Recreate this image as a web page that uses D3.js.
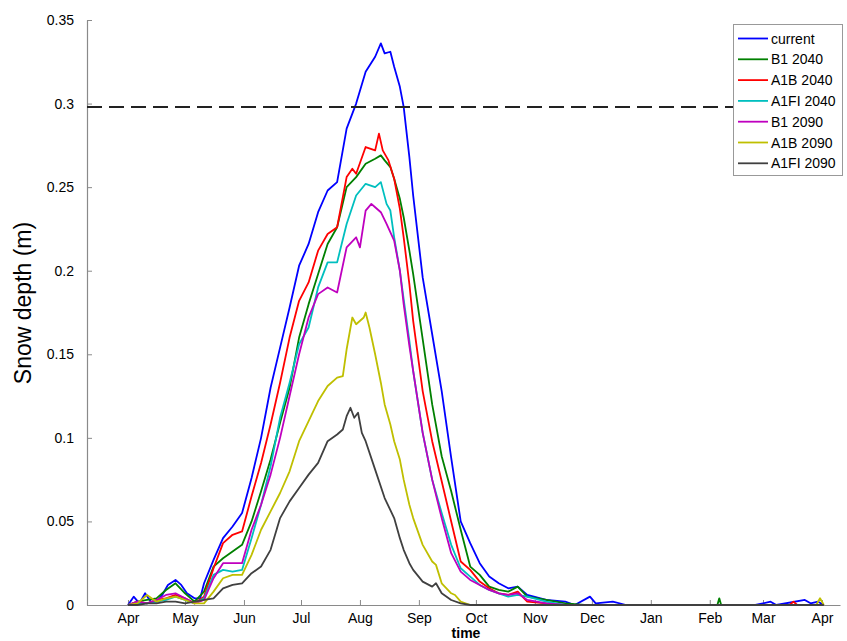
<!DOCTYPE html>
<html>
<head>
<meta charset="utf-8">
<script src="https://cdn.jsdelivr.net/npm/d3@7"></script>
<style>
  body { margin: 0; background: #fff; }
  text { font-family: "Liberation Sans", Arial, sans-serif; }
</style>
</head>
<body>
<div class="chart"></div>
<script>
// snow depth (m), [days after 1 April, value]
var current = [[0,0],[3,0.005],[6,0.001],[9,0.007],[12,0.002],[15,0.002],[18,0.006],[21,0.012],[25,0.015],[28,0.012],[31,0.007],[35,0.004],[38,0.004],
  [40,0.013],[45,0.027],[50,0.040],[55,0.047],[60,0.055],[65,0.076],[70,0.100],[75,0.130],[80,0.154],[85,0.178],[90,0.203],[95,0.216],[100,0.235],
  [105,0.248],[110,0.253],[115,0.285],[120,0.300],[125,0.319],[130,0.328],[133,0.336],[135,0.330],[138,0.331],[140,0.322],[143,0.310],[145,0.298],
  [148,0.268],[150,0.245],[155,0.196],[160,0.162],[165,0.128],[170,0.088],[175,0.050],[180,0.037],[185,0.025],[190,0.017],[195,0.013],[200,0.010],
  [205,0.011],[210,0.006],[220,0.003],[230,0.002],[235,0],[243,0.005],[246,0.001],[255,0.002],[262,0],[330,0],[338,0.002],[341,0],[356,0.003],[359,0.001],[363,0.002],[366,0]];

var b1_2040 = [[0,0],[5,0.002],[10,0.003],[15,0.004],[20,0.009],[25,0.013],[30,0.007],[35,0.002],[40,0.008],[45,0.023],[50,0.028],[55,0.032],[60,0.036],
  [65,0.050],[70,0.068],[75,0.087],[80,0.109],[85,0.130],[90,0.160],[95,0.180],[100,0.198],[105,0.216],[110,0.226],[115,0.250],[120,0.256],[125,0.264],
  [130,0.267],[133,0.269],[135,0.266],[138,0.262],[140,0.255],[143,0.243],[145,0.232],[148,0.212],[150,0.198],[155,0.159],[160,0.120],[165,0.089],
  [170,0.068],[175,0.045],[180,0.023],[185,0.018],[190,0.011],[195,0.009],[200,0.008],[205,0.011],[210,0.005],[220,0.003],[230,0.001],[240,0],
  [310,0],[311,0.004],[312,0],[366,0]];

var a1b_2040 = [[0,0],[5,0.002],[10,0.001],[15,0.003],[20,0.004],[25,0.006],[30,0.004],[35,0.001],[40,0.005],[45,0.022],[50,0.037],[55,0.042],[60,0.044],
  [65,0.065],[70,0.085],[75,0.108],[80,0.133],[85,0.160],[90,0.182],[95,0.193],[100,0.212],[105,0.222],[110,0.226],[115,0.256],[118,0.261],[120,0.258],
  [125,0.274],[130,0.272],[132,0.282],[134,0.272],[137,0.266],[140,0.255],[143,0.237],[145,0.220],[148,0.192],[150,0.170],[155,0.128],[160,0.098],
  [165,0.074],[170,0.050],[175,0.026],[180,0.021],[185,0.014],[190,0.010],[195,0.007],[200,0.006],[205,0.008],[210,0.002],[220,0.001],[230,0],
  [348,0],[350,0.002],[352,0],[366,0]];

var a1fi_2040 = [[0,0],[5,0.001],[10,0.001],[15,0.002],[20,0.003],[25,0.005],[30,0.003],[35,0.001],[40,0.004],[45,0.018],[50,0.021],[55,0.020],[60,0.021],
  [65,0.040],[70,0.060],[75,0.083],[80,0.112],[85,0.133],[90,0.156],[95,0.166],[100,0.190],[105,0.205],[110,0.205],[115,0.228],[120,0.245],[125,0.252],
  [130,0.250],[133,0.253],[136,0.240],[138,0.236],[140,0.220],[143,0.200],[145,0.183],[148,0.158],[150,0.140],[155,0.103],[160,0.075],[165,0.055],
  [170,0.036],[175,0.022],[180,0.017],[185,0.012],[190,0.009],[195,0.007],[200,0.005],[205,0.006],[210,0.005],[220,0.002],[230,0],[366,0]];

var b1_2090 = [[0,0],[5,0.002],[10,0.001],[15,0.003],[20,0.006],[25,0.007],[30,0.004],[35,0.001],[40,0.003],[45,0.016],[50,0.025],[55,0.025],[60,0.025],
  [65,0.045],[70,0.060],[75,0.078],[80,0.100],[85,0.125],[90,0.150],[95,0.172],[100,0.186],[105,0.190],[110,0.187],[115,0.214],[120,0.220],[122,0.214],
  [125,0.236],[128,0.240],[130,0.238],[133,0.235],[136,0.228],[140,0.218],[143,0.200],[145,0.180],[148,0.155],[150,0.140],[155,0.103],[160,0.075],
  [165,0.052],[170,0.031],[175,0.020],[180,0.015],[185,0.012],[190,0.009],[195,0.007],[200,0.006],[205,0.007],[210,0.003],[220,0.001],[230,0],[366,0]];

var a1b_2090 = [[0,0],[5,0.001],[10,0.006],[15,0.002],[20,0.004],[25,0.005],[30,0.003],[35,0.001],[40,0.001],[45,0.008],[50,0.016],[55,0.018],[60,0.018],
  [65,0.030],[70,0.045],[75,0.056],[80,0.067],[85,0.080],[90,0.098],[95,0.110],[100,0.122],[105,0.131],[110,0.136],[113,0.137],[115,0.153],[118,0.172],
  [120,0.168],[124,0.172],[125,0.175],[127,0.166],[130,0.150],[133,0.133],[135,0.120],[138,0.108],[140,0.098],[143,0.087],[145,0.075],[148,0.060],
  [150,0.052],[155,0.036],[160,0.026],[162,0.024],[165,0.013],[170,0.007],[172,0.006],[175,0.002],[180,0],[362,0],[364,0.004],[366,0]];

var a1fi_2090 = [[0,0],[5,0],[10,0.001],[15,0.001],[20,0.002],[25,0.002],[30,0.001],[35,0.002],[40,0.003],[45,0.004],[50,0.010],[55,0.012],[60,0.013],
  [65,0.019],[70,0.023],[75,0.033],[80,0.052],[85,0.062],[90,0.070],[95,0.078],[100,0.085],[105,0.098],[110,0.102],[113,0.105],[115,0.113],[117,0.118],
  [119,0.112],[121,0.115],[123,0.103],[125,0.098],[130,0.081],[135,0.064],[140,0.052],[143,0.040],[145,0.033],[148,0.025],[150,0.021],[155,0.014],
  [160,0.011],[162,0.013],[165,0.007],[170,0.003],[175,0.001],[180,0],[366,0]];

var seriesNames = ["current", "B1 2040", "A1B 2040", "A1FI 2040", "B1 2090", "A1B 2090", "A1FI 2090"];
var seriesData = [current, b1_2040, a1b_2040, a1fi_2040, b1_2090, a1b_2090, a1fi_2090];
var seriesColors = ["#0000ff", "#008000", "#ff0000", "#00bfbf", "#bf00bf", "#bfbf00", "#404040"];

var yTicks = [0, 0.05, 0.1, 0.15, 0.2, 0.25, 0.3, 0.35];
var threshold = 0.298;

var svgWidth = 847;
var svgHeight = 641;
var margin = { top: 20, right: 7, bottom: 36, left: 87 };
var width = svgWidth - margin.left - margin.right;
var height = svgHeight - margin.top - margin.bottom;

var DAY = 864e5;
var apr1 = Date.UTC(2001, 3, 1);
var toDate = d => new Date(apr1 + d * DAY);

var svg = d3.select(".chart")
  .append("svg")
  .attr("width", svgWidth)
  .attr("height", svgHeight);

var chartGroup = svg.append("g")
  .attr("transform", `translate(${margin.left}, ${margin.top})`);

var xScale = d3.scaleUtc()
  .domain([toDate(-21.56), toDate(374.5)])
  .range([0, width]);

var yScale = d3.scaleLinear()
  .domain([0, 0.35])
  .range([height, 0]);

// axes, ticks pointing inwards
var bottomAxis = d3.axisBottom(xScale)
  .ticks(d3.utcMonth.every(1))
  .tickFormat(d3.utcFormat("%b"))
  .tickSizeInner(-5).tickSizeOuter(0).tickPadding(8);
var leftAxis = d3.axisLeft(yScale)
  .tickValues(yTicks)
  .tickFormat(d => String(d))
  .tickSizeInner(-5).tickSizeOuter(0).tickPadding(13);

function styleAxis(g) {
  g.select(".domain").attr("stroke", "#8a8a8a").attr("stroke-width", 1.2);
  g.selectAll(".tick line").attr("stroke", "#8a8a8a");
  g.selectAll(".tick text").attr("fill", "#000").attr("font-size", "14px")
    .attr("font-family", "'Liberation Sans', Arial, sans-serif");
}

chartGroup.append("g")
  .attr("transform", `translate(0, ${height})`)
  .call(bottomAxis)
  .call(styleAxis);

chartGroup.append("g")
  .call(leftAxis)
  .call(styleAxis);

// snow lines
var line = d3.line()
  .x(d => xScale(toDate(d[0])))
  .y(d => yScale(d[1]));

chartGroup.selectAll(".snow")
  .data(seriesData)
  .enter()
  .append("path")
  .attr("class", "snow")
  .attr("d", line)
  .attr("fill", "none")
  .attr("stroke", (d, i) => seriesColors[i])
  .attr("stroke-width", 1.8)
  .attr("stroke-linejoin", "round");

// dashed threshold line
chartGroup.append("line")
  .attr("x1", 0)
  .attr("x2", width)
  .attr("y1", yScale(threshold))
  .attr("y2", yScale(threshold))
  .attr("stroke", "#222")
  .attr("stroke-width", 2)
  .attr("stroke-dasharray", "15,7");

// legend
var legend = svg.append("g");
legend.append("rect")
  .attr("x", 733.5).attr("y", 24.5)
  .attr("width", 109).attr("height", 151)
  .attr("fill", "#fff")
  .attr("stroke", "#999");

var rows = legend.selectAll(".row")
  .data(seriesNames)
  .enter()
  .append("g")
  .attr("transform", (d, i) => `translate(0, ${38.5 + i * 20.8})`);

rows.append("line")
  .attr("x1", 738).attr("x2", 768)
  .attr("stroke", (d, i) => seriesColors[i])
  .attr("stroke-width", 1.8);

rows.append("text")
  .attr("x", 771)
  .attr("y", 5)
  .attr("font-size", "14px")
  .attr("fill", "#000")
  .text(d => d);

// axis labels
svg.append("text")
  .attr("transform", "translate(31, 303) rotate(-90)")
  .attr("text-anchor", "middle")
  .attr("font-size", "23px")
  .text("Snow depth (m)");

svg.append("text")
  .attr("x", 466)
  .attr("y", 638)
  .attr("text-anchor", "middle")
  .attr("font-size", "14px")
  .attr("font-weight", "bold")
  .text("time");
</script>
</body>
</html>
